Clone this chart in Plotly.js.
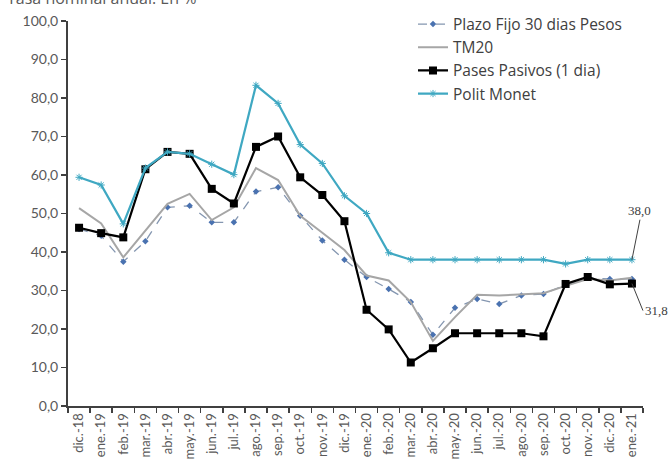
<!DOCTYPE html>
<html>
<head>
<meta charset="utf-8">
<script src="https://cdn.plot.ly/plotly-3.0.1.min.js"></script>
<style>
  html, body { margin: 0; padding: 0; background: #fff; }
  #chart { width: 671px; height: 464px; }
</style>
</head>
<body>
<div id="chart"></div>
<script>
// Monthly rates, Dec 2018 – Jan 2021 (nominal annual, %)
const months = ["dic.-18","ene.-19","feb.-19","mar.-19","abr.-19","may.-19","jun.-19","jul.-19",
  "ago.-19","sep.-19","oct.-19","nov.-19","dic.-19","ene.-20","feb.-20","mar.-20","abr.-20",
  "may.-20","jun.-20","jul.-20","ago.-20","sep.-20","oct.-20","nov.-20","dic.-20","ene.-21"];

const plazoFijo = [46.0,44.2,37.5,42.8,51.6,52.0,47.7,47.7,55.7,56.8,49.4,43.0,38.0,33.5,30.4,27.0,
  18.5,25.5,27.8,26.5,28.7,29.1,31.5,33.3,33.0,33.0];
const tm20 = [51.4,47.4,38.6,45.5,52.5,55.1,48.3,51.6,61.8,58.7,49.4,45.0,40.5,33.9,32.6,27.0,
  16.9,23.1,28.9,28.7,29.0,29.3,31.2,33.0,32.6,33.3];
const pasesPasivos = [46.3,44.9,43.8,61.5,66.0,65.5,56.4,52.6,67.3,70.0,59.4,54.8,48.0,25.0,19.9,11.3,
  15.0,18.9,18.9,18.9,18.9,18.1,31.7,33.5,31.6,31.8];
const politMonet = [59.4,57.4,47.3,61.8,66.0,65.5,62.8,60.1,83.3,78.6,67.9,63.0,54.6,50.0,39.8,38.0,
  38.0,38.0,38.0,38.0,38.0,38.0,36.9,38.0,38.0,38.0];

const titleText = "Tasa nominal anual. En %";
const lastIdx = months.length - 1;

const traces = [
  {
    x: months, y: plazoFijo, name: "Plazo Fijo 30 dias Pesos", type: "scatter", mode: "lines+markers",
    line: { color: "#8496b0", width: 1.3, dash: "dash" },
    marker: { symbol: "diamond", size: 5, color: "#4a72b0" }
  },
  {
    x: months, y: tm20, name: "TM20", type: "scatter", mode: "lines",
    line: { color: "#a6a6a6", width: 2 }
  },
  {
    x: months, y: pasesPasivos, name: "Pases Pasivos (1 dia)", type: "scatter", mode: "lines+markers",
    line: { color: "#000000", width: 2.2 },
    marker: { symbol: "square", size: 8, color: "#000000" }
  },
  {
    x: months, y: politMonet, name: "Polit Monet", type: "scatter", mode: "lines+markers",
    line: { color: "#3fa8c2", width: 2.2 },
    marker: { symbol: "asterisk-open", size: 6, line: { color: "#3fa8c2", width: 1 } }
  }
];

const labelFont = { family: "Liberation Serif, DejaVu Serif, serif", size: 13, color: "#404040" };

const layout = {
  width: 671, height: 464,
  margin: { l: 68, r: 28, t: 21, b: 58, autoexpand: false },
  paper_bgcolor: "#ffffff", plot_bgcolor: "#ffffff",
  separators: ",.",
  showlegend: true,
  font: { family: "Lato, Open Sans, sans-serif", size: 13, color: "#595959" },
  legend: {
    x: 0.6, y: 1.035, xanchor: "left", yanchor: "top",
    bgcolor: "rgba(255,255,255,0)", tracegroupgap: 0,
    font: { family: "Open Sans, sans-serif", size: 15.5, color: "#404040" }
  },
  xaxis: {
    type: "category", tickangle: -90, ticks: "outside", tickson: "boundaries",
    ticklen: 5, tickwidth: 1.5, tickcolor: "#404040",
    showline: true, linecolor: "#404040", linewidth: 2,
    showgrid: false, zeroline: false,
    tickfont: { size: 13, color: "#595959" },
    range: [-0.5, lastIdx + 0.5]
  },
  yaxis: {
    range: [0, 100], dtick: 10, tickformat: ".1f",
    ticks: "outside", ticklen: 5, tickwidth: 1.5, tickcolor: "#404040",
    showline: true, linecolor: "#404040", linewidth: 2,
    showgrid: false, zeroline: false,
    tickfont: { size: 14, color: "#595959" }
  },
  annotations: [
    {
      text: titleText, xref: "paper", yref: "paper", x: -0.11, y: 1.026,
      xanchor: "left", yanchor: "bottom", showarrow: false,
      font: { family: "Open Sans, sans-serif", size: 16, color: "#595959" }
    },
    {
      x: months[lastIdx], y: politMonet[lastIdx], xref: "x", yref: "y",
      text: politMonet[lastIdx].toFixed(1).replace(".", ","),
      showarrow: true, arrowhead: 0, arrowwidth: 1, arrowcolor: "#404040",
      ax: 8, ay: -40, xanchor: "center", yanchor: "bottom", font: labelFont
    },
    {
      x: months[lastIdx], y: pasesPasivos[lastIdx], xref: "x", yref: "y",
      text: pasesPasivos[lastIdx].toFixed(1).replace(".", ","),
      showarrow: true, arrowhead: 0, arrowwidth: 1, arrowcolor: "#404040",
      ax: 11, ay: 27, xanchor: "left", yanchor: "middle", font: labelFont
    }
  ]
};

Plotly.newPlot("chart", traces, layout, { displayModeBar: false, staticPlot: true });
</script>
</body>
</html>
